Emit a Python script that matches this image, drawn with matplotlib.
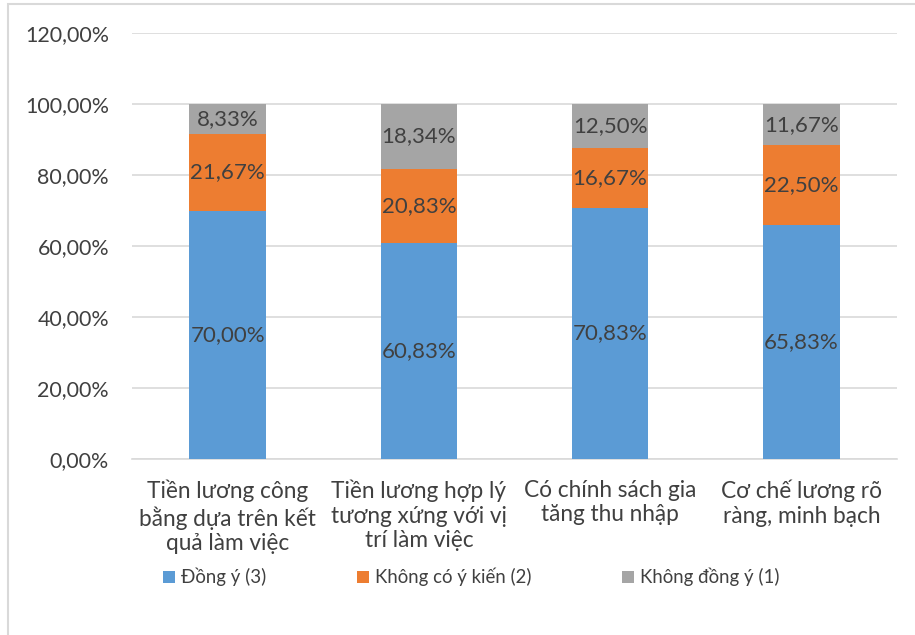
import matplotlib.pyplot as plt
from matplotlib.patches import Rectangle, Patch

plt.rcParams['font.family'] = ['Lato', 'Noto Sans', 'DejaVu Sans']

categories = [
    "Tiền lương công\nbằng dựa trên kết\nquả làm việc",
    "Tiền lương hợp lý\ntương xứng với vị\ntrí làm việc",
    "Có chính sách gia\ntăng thu nhập",
    "Cơ chế lương rõ\nràng, minh bạch",
]
dong_y = [70.00, 60.83, 70.83, 65.83]
khong_y_kien = [21.67, 20.83, 16.67, 22.50]
khong_dong_y = [8.33, 18.34, 12.50, 11.67]

series_names = ["Đồng ý (3)", "Không có ý kiến (2)", "Không đồng ý (1)"]
colors = ["#5B9BD5", "#ED7D31", "#A5A5A5"]
txt = "#404040"
grid = "#D9D9D9"

fig = plt.figure(figsize=(9.15, 6.35), dpi=100)
ax = fig.add_axes([0.1443, 0.2772, 0.836, 0.6708])

x = range(len(categories))
bottom = [0] * len(categories)
for vals, col in zip([dong_y, khong_y_kien, khong_dong_y], colors):
    ax.bar(x, vals, width=0.4, bottom=bottom, color=col, zorder=3)
    for i, v in enumerate(vals):
        ax.text(i, bottom[i] + v / 2, f"{v:.2f}%".replace(".", ","),
                ha="center", va="center", fontsize=16, color=txt, zorder=4)
    bottom = [b + v for b, v in zip(bottom, vals)]

ax.set_ylim(0, 120)
ax.set_xlim(-0.5, len(categories) - 0.5)
ax.set_yticks(range(0, 121, 20))
ax.set_yticklabels([f"{t:.2f}%".replace(".", ",") for t in range(0, 121, 20)],
                   fontsize=15.4, color=txt)
ax.set_xticks(list(x))
ax.set_xticklabels(categories, fontsize=16.3, color=txt, linespacing=1.2)
ax.tick_params(length=0)
ax.tick_params(axis="y", pad=16.5)
ax.tick_params(axis="x", pad=15)
ax.grid(axis="y", color=grid, linewidth=1.2, zorder=0)
for s in ["top", "right", "left"]:
    ax.spines[s].set_visible(False)
ax.spines["bottom"].set_color(grid)
ax.spines["bottom"].set_linewidth(1.2)

handles = [Patch(facecolor=c, edgecolor="none") for c in colors]
fig.legend(handles, series_names, loc="center", bbox_to_anchor=(0.515, 0.091),
           ncol=3, frameon=False, fontsize=13.4, labelcolor=txt,
           handlelength=0.65, handleheight=0.65, handletextpad=0.3,
           columnspacing=4.9)

# chart frame runs off the right and bottom edges
fig.patches.append(Rectangle((8 / 915, -0.1), 1.0, 1.1 - 4 / 635,
                             transform=fig.transFigure, fill=False,
                             edgecolor=grid, linewidth=1.5))

fig.savefig("out.png", dpi=100)
